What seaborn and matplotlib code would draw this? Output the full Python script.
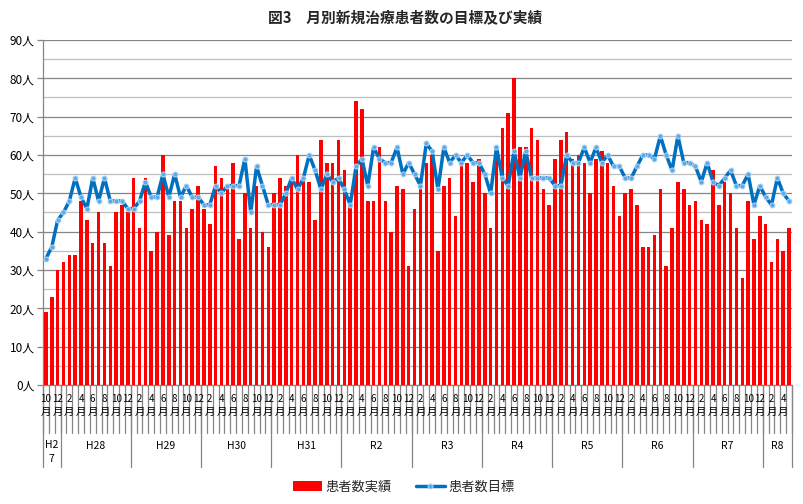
import numpy as np
import pandas as pd
import matplotlib
matplotlib.use("Agg")
import matplotlib.pyplot as plt
import matplotlib.transforms as mtrans
from matplotlib.lines import Line2D
from matplotlib.patches import Patch
import seaborn as sns

# ---- data (monthly, from H27/10 to R8/5) ----
actual = [19, 23, 30, 32, 34, 34, 48, 43, 37, 45,
          37, 31, 45, 47, 45, 54, 41, 54, 35, 40,
          60, 39, 48, 48, 41, 46, 52, 46, 42, 57,
          54, 51, 58, 38, 50, 41, 52, 40, 36, 50,
          54, 52, 53, 60, 54, 53, 43, 64, 58, 58,
          64, 56, 49, 74, 72, 48, 48, 62, 48, 40,
          52, 51, 31, 46, 54, 58, 60, 35, 52, 54,
          44, 58, 58, 53, 59, 50, 41, 62, 67, 71,
          80, 62, 62, 67, 64, 51, 47, 59, 64, 66,
          59, 60, 58, 50, 59, 61, 58, 52, 44, 50,
          51, 47, 36, 36, 39, 51, 31, 41, 53, 51,
          47, 48, 43, 42, 56, 47, 53, 50, 41, 28,
          48, 38, 44, 42, 32, 38, 35, 41]
target = [33, 36, 43, 45, 48, 54, 49, 46, 54, 48,
          54, 48, 48, 48, 46, 46, 48, 53, 49, 49,
          55, 49, 55, 49, 52, 49, 49, 47, 47, 52,
          50, 52, 52, 52, 59, 45, 57, 52, 47, 47,
          47, 50, 54, 51, 54, 60, 56, 51, 55, 53,
          54, 51, 47, 57, 59, 52, 62, 59, 58, 58,
          62, 55, 58, 55, 52, 63, 61, 51, 62, 58,
          60, 58, 60, 58, 58, 55, 50, 62, 54, 52,
          61, 54, 61, 54, 54, 54, 54, 52, 52, 60,
          58, 58, 62, 58, 62, 58, 60, 57, 57, 54,
          54, 57, 60, 60, 59, 65, 60, 56, 65, 58,
          58, 57, 53, 58, 53, 52, 54, 56, 52, 52,
          55, 47, 52, 49, 47, 54, 50, 48]
era_labels = ["H2\n7", "H28", "H29", "H30", "H31", "R2", "R3", "R4", "R5", "R6", "R7", "R8"]
era_months = [3, 12, 12, 12, 12, 12, 12, 12, 12, 12, 12, 5]
first_month = 10
y_ticks = [0, 10, 20, 30, 40, 50, 60, 70, 80, 90]
y_tick_labels = [f"{v}人" for v in y_ticks]
title = "図3　月別新規治療患者数の目標及び実績"
series_names = ["患者数実績", "患者数目標"]

sns.set_theme(style="white")
plt.rcParams['font.family'] = ['Noto Sans CJK JP', 'DejaVu Sans']

n = len(actual)
months = [(first_month - 1 + k) % 12 + 1 for k in range(n)]
df = pd.DataFrame({"idx": list(range(n)), "actual": actual, "target": target})

W, H = 804, 504
fig = plt.figure(figsize=(W / 100, H / 100), dpi=100)
ax_l, ax_r, ax_t, ax_b = 43, 792, 40, 385
ax = fig.add_axes([ax_l / W, (H - ax_b) / H, (ax_r - ax_l) / W, (ax_b - ax_t) / H])

sns.barplot(data=df, x="idx", y="actual", color="#FF0000", saturation=1,
            width=0.6, linewidth=0, edgecolor="none", ax=ax, zorder=3)
sns.lineplot(data=df, x="idx", y="target", color="#0070C0", lw=2.5,
             marker="o", ms=3.6, mfc="#5DA9E9", mec="#B5D8F5", mew=0.7,
             ax=ax, zorder=4)

ax.set_xlim(-0.5, n - 0.5)
ax.set_ylim(0, 90)
ax.set_yticks(y_ticks)
ax.set_yticklabels(y_tick_labels, fontsize=8.5, color="black")
ax.set_yticks(list(range(5, 90, 10)), minor=True)
ax.grid(axis='y', which='major', color='#868686', lw=0.9, zorder=0)
ax.grid(axis='y', which='minor', color='#BFBFBF', lw=0.9, zorder=0)
ax.grid(axis='x', visible=False)
ax.set_axisbelow(True)
ax.set_xticks([])
ax.set_xlabel("")
ax.set_ylabel("")
for s in ["top", "right"]:
    ax.spines[s].set_visible(False)
for s in ["left", "bottom"]:
    ax.spines[s].set_color('#868686')
    ax.spines[s].set_linewidth(0.9)
ax.tick_params(axis='y', which='major', length=4, width=0.9, color='#868686', left=True, pad=2)
ax.tick_params(axis='y', which='minor', length=0)

axh = ax_b - ax_t
def fy(ypx):
    return (ax_b - ypx) / axh

trans = mtrans.blended_transform_factory(ax.transData, ax.transAxes)
# month separators
for b in range(n + 1):
    ax.plot([b - 0.5, b - 0.5], [0, fy(433)], transform=trans, color='#868686',
            lw=0.9, clip_on=False, zorder=1)
# era separators
bounds = np.concatenate([[0], np.cumsum(era_months)])
for b in bounds:
    ax.plot([b - 0.5, b - 0.5], [0, fy(467)], transform=trans, color='#868686',
            lw=0.9, clip_on=False, zorder=1)
# month labels
for i, m in enumerate(months):
    if i % 2 == 0:
        ax.text(i, fy(399), str(m), transform=trans, ha='center', va='center',
                fontsize=7, color='black')
        ax.text(i, fy(412), "月", transform=trans, ha='center', va='center',
                fontsize=7.5, color='black')
# era labels
for lab, b0, b1 in zip(era_labels, bounds[:-1], bounds[1:]):
    c = (b0 + b1 - 1) / 2
    ax.text(c, fy(452 if "\n" in lab else 446), lab, transform=trans, ha='center',
            va='center', fontsize=7.5, color='black', linespacing=1.5)

fig.text(405 / W, (H - 17) / H, title, ha='center', va='center',
         fontsize=10.6, fontweight='bold')

handles = [Patch(facecolor="#FF0000", edgecolor="none"),
           Line2D([0], [0], color="#0070C0", lw=2.5, marker="o", ms=3.6,
                  mfc="#5DA9E9", mec="#B5D8F5", mew=0.7)]
fig.legend(handles, series_names, loc='center', bbox_to_anchor=(404 / W, (H - 487) / H),
           ncol=2, frameon=False, fontsize=9.5, handlelength=2.2, handleheight=0.8,
           columnspacing=1.8, handletextpad=0.3)

fig.savefig("out.png", dpi=100)
